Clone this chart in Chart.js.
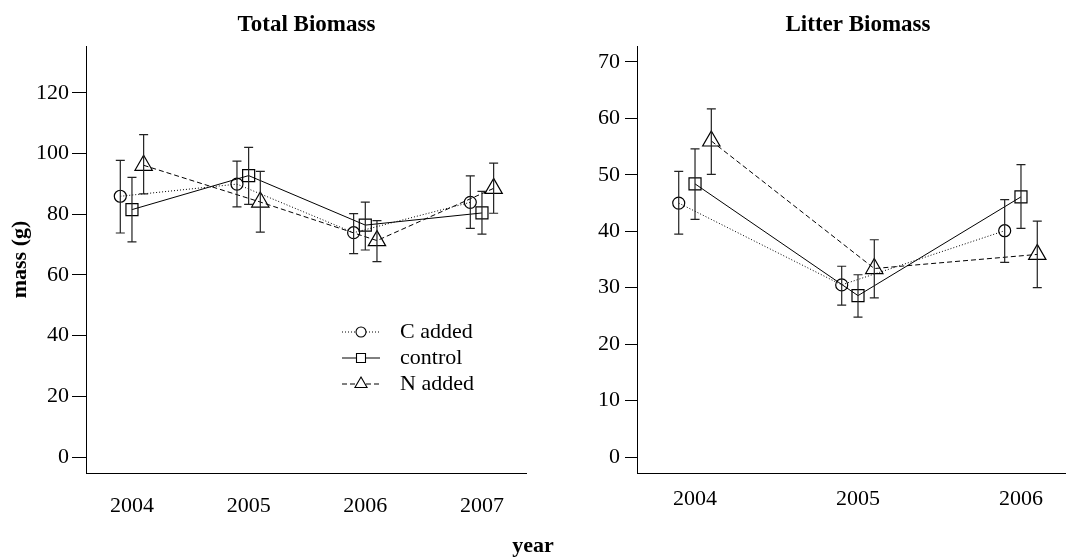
<!DOCTYPE html>
<html><head><meta charset="utf-8">
<script src="https://cdn.jsdelivr.net/npm/chart.js@4.4.1/dist/chart.umd.min.js"></script>
<style>
html,body{margin:0;padding:0;background:#fff;overflow:hidden;width:1066px;height:557px;}
#wrap{position:relative;width:1066px;height:557px;overflow:hidden;background:#fff;}
#c1{position:absolute;left:0;top:0;}
#c2{position:absolute;left:533px;top:0;}
#xt{position:absolute;left:0;width:1066px;top:532px;text-align:center;font:bold 22px 'Liberation Serif';line-height:26px;color:#000;}
</style></head><body>
<div id="wrap">
<canvas id="c1" width="527" height="557"></canvas>
<canvas id="c2" width="546" height="557"></canvas>
<div id="xt">year</div>
</div>
<script>
// ---- data ----
const seriesLabels = ['C added', 'control', 'N added'];

const totalYears = [2004, 2005, 2006, 2007];
const totalTicks = [0, 20, 40, 60, 80, 100, 120];
const totalC      = [85.9, 89.9, 73.9, 83.9];
const totalCLow   = [73.8, 82.4, 67.0, 75.3];
const totalCHigh  = [97.7, 97.5, 80.2, 92.6];
const totalK      = [81.5, 92.7, 76.4, 80.4];
const totalKLow   = [70.9, 83.2, 68.2, 73.4];
const totalKHigh  = [92.1, 102.0, 84.0, 87.5];
const totalN      = [96.1, 84.0, 71.3, 88.5];
const totalNLow   = [86.7, 74.1, 64.4, 80.3];
const totalNHigh  = [106.2, 94.1, 77.9, 96.8];

const litterYears = [2004, 2005, 2006];
const litterTicks = [0, 10, 20, 30, 40, 50, 60, 70];
const litterC     = [45.0, 30.5, 40.1];
const litterCLow  = [39.5, 26.9, 34.5];
const litterCHigh = [50.6, 33.8, 45.6];
const litterK     = [48.4, 28.6, 46.1];
const litterKLow  = [42.1, 24.8, 40.5];
const litterKHigh = [54.6, 32.3, 51.8];
const litterN     = [56.0, 33.4, 35.9];
const litterNLow  = [50.1, 28.2, 30.0];
const litterNHigh = [61.7, 38.5, 41.8];

// ---- styles ----
Chart.defaults.font.family = "'Liberation Serif', 'Times New Roman', serif";
Chart.defaults.font.size = 22;
Chart.defaults.color = '#000';

const styleC = {dash:[1,2], point:'circle', r:6, off:-0.1, legR:5};
const styleK = {dash:[], point:'rect', r:8.5, off:0, legR:4.5};
const styleN = {dash:[5,3], point:'triangle', r:10, off:0.1, legR:7};

function series(label, years, vals, lows, highs, st) {
  return {
    label: label,
    data: years.map((yr, i) => ({x: yr + st.off, y: vals[i]})),
    errLow: lows, errHigh: highs, legR: st.legR,
    borderColor: '#000', borderWidth: 1, borderDash: st.dash,
    pointStyle: st.point, pointRadius: st.r, pointHoverRadius: st.r,
    pointBorderColor: '#000', pointBackgroundColor: 'rgba(0,0,0,0)', pointBorderWidth: 1.2,
    tension: 0, fill: false, clip: false
  };
}

const errorBars = {
  id: 'errorBars',
  afterDatasetsDraw(chart) {
    const ctx = chart.ctx, ys = chart.scales.y;
    ctx.save();
    ctx.strokeStyle = '#222'; ctx.lineWidth = 1.2; ctx.setLineDash([]);
    chart.data.datasets.forEach((ds, di) => {
      const meta = chart.getDatasetMeta(di);
      meta.data.forEach((pt, i) => {
        const x = pt.x;
        const y1 = ys.getPixelForValue(ds.errHigh[i]);
        const y2 = ys.getPixelForValue(ds.errLow[i]);
        ctx.beginPath();
        ctx.moveTo(x, y1); ctx.lineTo(x, y2);
        ctx.moveTo(x - 4.5, y1); ctx.lineTo(x + 4.5, y1);
        ctx.moveTo(x - 4.5, y2); ctx.lineTo(x + 4.5, y2);
        ctx.stroke();
      });
    });
    ctx.restore();
  }
};

function marker(ctx, style, r, x, y) {
  ctx.beginPath();
  if (style === 'circle') {
    ctx.arc(x, y, r, 0, Math.PI * 2);
  } else if (style === 'rect') {
    ctx.rect(x - r, y - r, 2 * r, 2 * r);
  } else {
    ctx.moveTo(x, y - r);
    ctx.lineTo(x + r * 0.866, y + r * 0.5);
    ctx.lineTo(x - r * 0.866, y + r * 0.5);
    ctx.closePath();
  }
  ctx.fill(); ctx.stroke();
}

const inLegend = {
  id: 'inLegend',
  afterDraw(chart) {
    const ctx = chart.ctx, a = chart.chartArea;
    const x0 = a.left + 256, x1 = a.left + 294, xm = a.left + 275, xt = a.left + 314;
    const rows = [332, 358, 384];
    chart.data.datasets.forEach((ds, i) => {
      const y = rows[i];
      ctx.save();
      ctx.strokeStyle = '#000'; ctx.lineWidth = 1;
      ctx.setLineDash(ds.borderDash);
      ctx.beginPath(); ctx.moveTo(x0, y); ctx.lineTo(x1, y); ctx.stroke();
      ctx.setLineDash([]);
      ctx.fillStyle = '#fff'; ctx.lineWidth = 1.1;
      marker(ctx, ds.pointStyle, ds.legR, xm, y);
      ctx.fillStyle = '#000';
      ctx.font = "22px 'Liberation Serif', 'Times New Roman', serif";
      ctx.textBaseline = 'middle'; ctx.textAlign = 'left';
      ctx.fillText(ds.label, xt, y);
      ctx.restore();
    });
  }
};

function makeChart(canvasId, cfg) {
  return new Chart(document.getElementById(canvasId), {
    type: 'line',
    data: {datasets: cfg.datasets},
    plugins: cfg.plugins,
    options: {
      responsive: false, animation: false, events: [],
      layout: {padding: 0, autoPadding: false},
      plugins: {
        legend: {display: false}, tooltip: {enabled: false},
        title: {display: true, text: cfg.title, fullSize: false, color: '#000',
                font: {size: 23, weight: 'bold'}, padding: {top: 11, bottom: 7.4}}
      },
      scales: {
        x: {
          type: 'linear', min: cfg.xmin, max: cfg.xmax,
          afterBuildTicks: s => { s.ticks = cfg.years.map(v => ({value: v})); },
          afterFit: s => { s.height = 84; },
          grid: {display: false},
          border: {display: true, color: '#000', width: 1},
          ticks: {padding: cfg.xpad, color: '#000', autoSkip: false, maxRotation: 0,
                  callback: v => String(v)}
        },
        y: {
          min: cfg.ymin, max: cfg.ymax,
          afterBuildTicks: s => { s.ticks = cfg.ticks.map(v => ({value: v})); },
          afterFit: s => { s.width = cfg.yw; },
          grid: {display: true, drawOnChartArea: false, drawTicks: true, tickLength: cfg.tl, color: '#000'},
          border: {display: true, color: '#000', width: 1},
          ticks: {padding: cfg.ypad, color: '#000', autoSkip: false},
          title: cfg.ytitle ? {display: true, text: cfg.ytitle, color: '#000',
                  font: {size: 22, weight: 'bold'}, padding: {top: 7, bottom: 0}} : {display: false}
        }
      }
    }
  });
}

makeChart('c1', {
  title: 'Total Biomass', years: totalYears, ticks: totalTicks,
  xmin: 2003.606, xmax: 2007.386, ymin: -5.26, ymax: 135.4,
  yw: 86, tl: 14, ypad: 3, xpad: 12, ytitle: 'mass (g)',
  plugins: [errorBars, inLegend],
  datasets: [
    series(seriesLabels[0], totalYears, totalC, totalCLow, totalCHigh, styleC),
    series(seriesLabels[1], totalYears, totalK, totalKLow, totalKHigh, styleK),
    series(seriesLabels[2], totalYears, totalN, totalNLow, totalNHigh, styleN)
  ]
});

makeChart('c2', {
  title: 'Litter Biomass', years: litterYears, ticks: litterTicks,
  xmin: 2003.644, xmax: 2006.356, ymin: -2.83, ymax: 72.83,
  yw: 104, tl: 12, ypad: 5, xpad: 5, ytitle: null,
  plugins: [errorBars],
  datasets: [
    series(seriesLabels[0], litterYears, litterC, litterCLow, litterCHigh, styleC),
    series(seriesLabels[1], litterYears, litterK, litterKLow, litterKHigh, styleK),
    series(seriesLabels[2], litterYears, litterN, litterNLow, litterNHigh, styleN)
  ]
});
</script>
</body></html>
